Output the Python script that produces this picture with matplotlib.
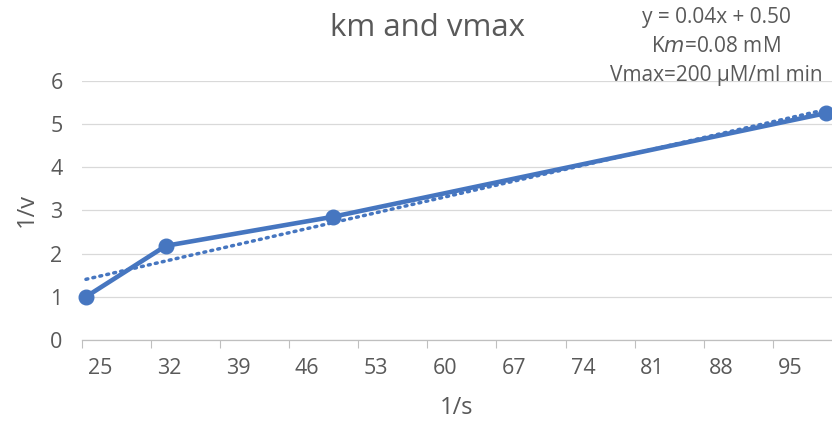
import numpy as np
import matplotlib
matplotlib.use("Agg")
import matplotlib.pyplot as plt
from matplotlib.ticker import FixedLocator

# Lineweaver-Burk points
inv_s = [23.6, 31.7, 48.6, 98.6]
inv_v = [1.0, 2.18, 2.85, 5.25]

x_labels = [25, 32, 39, 46, 53, 60, 67, 74, 81, 88, 95]
y_labels = [0, 1, 2, 3, 4, 5, 6]

blue = "#4676C0"
grey_text = "#595959"

fig = plt.figure(figsize=(8.32, 4.23), dpi=100)
ax = fig.add_axes([82 / 832, 83 / 423, 750 / 832, 259.3 / 423])

# data line with markers
ax.plot(inv_s, inv_v, color=blue, lw=3.3, marker="o", ms=10.5,
        solid_capstyle="round", clip_on=False, zorder=3)

# linear trendline through the points
k, b = np.polyfit(inv_s, inv_v, 1)
xt = np.array([inv_s[0], inv_s[-1]])
ax.plot(xt, k * xt + b, color=blue, lw=2.5, ls=(0, (0.55, 1.5)),
        dash_capstyle="round", zorder=2)

ax.set_xlim(23.2, 99.2)
ax.set_ylim(0, 6)

# tick marks sit between the category labels
ax.xaxis.set_major_locator(FixedLocator(x_labels))
ax.xaxis.set_minor_locator(FixedLocator([v - 1.8 for v in x_labels]))
ax.tick_params(axis="x", which="major", length=0, pad=13,
               labelsize=15.5, labelcolor=grey_text)
ax.tick_params(axis="x", which="minor", length=6, color="#BFBFBF", width=0.8)
ax.set_yticks(y_labels)
ax.tick_params(axis="y", length=0, pad=14, labelsize=15.5, labelcolor=grey_text)
for lab in ax.get_xticklabels() + ax.get_yticklabels():
    lab.set_fontfamily("Open Sans")

ax.grid(axis="y", color="#D9D9D9", lw=0.9)
ax.set_axisbelow(True)
for side in ("top", "right", "left"):
    ax.spines[side].set_visible(False)
ax.spines["bottom"].set_color("#BFBFBF")
ax.spines["bottom"].set_linewidth(0.9)

ax.set_xlabel("1/s", fontsize=17, color=grey_text, family="Open Sans", labelpad=12)
ax.set_ylabel("1/v", fontsize=17, color=grey_text, family="Open Sans", labelpad=8)

fig.text(427 / 832, 1 - 28 / 423, "km and vmax", ha="center", va="center",
         fontsize=22.5, color=grey_text, family="Open Sans")

note = ["y = 0.04x + 0.50", r"K$\mathit{m}$=0.08 mM", "Vmax=200 µM/ml min"]
for i, line in enumerate(note):
    fig.text(716 / 832, 1 - (17 + 29.5 * i) / 423, line, ha="center", va="center",
             fontsize=15, color=grey_text, family="Open Sans")

fig.savefig("out.png", dpi=100)
